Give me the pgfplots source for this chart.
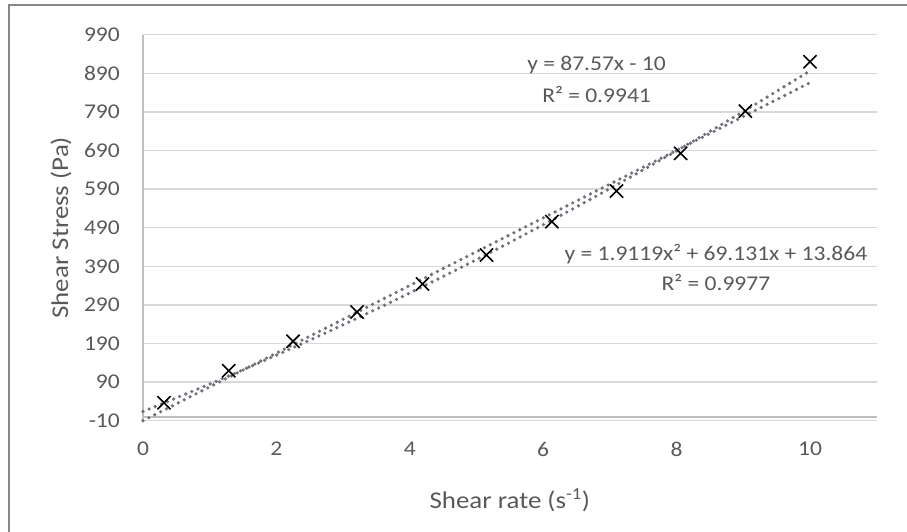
\documentclass[border=0pt]{standalone}
\usepackage{fontspec}
\setmainfont{Carlito}[FakeStretch=1.12]
\usepackage{pgfplots}
\pgfplotsset{compat=1.18}
\definecolor{txt}{RGB}{89,89,89}
\definecolor{gridc}{RGB}{217,217,217}
\definecolor{axisc}{RGB}{191,191,191}
\definecolor{trend}{RGB}{112,112,122}
\definecolor{framec}{RGB}{134,134,134}

\begin{document}
\begin{tikzpicture}
\useasboundingbox (0pt,0pt) rectangle (907pt,531pt);
\begin{scope}
\clip (0pt,0pt) rectangle (907pt,531pt);
\draw[framec,line width=1.8pt] (9pt,-20pt) -- (9pt,526pt) -- (930pt,526pt);
\end{scope}
\begin{axis}[
  at={(143pt,110.3pt)},anchor=south west,
  scale only axis,width=733.7pt,height=386pt,
  xmin=0,xmax=11,ymin=-10,ymax=990,
  xtick={0,2,4,6,8,10},
  ytick={-10,90,190,290,390,490,590,690,790,890,990},
  axis line style={draw=none},
  major tick length=0pt,
  ymajorgrids,
  grid style={gridc,line width=1.4pt},
  /pgf/number format/assume math mode=true,
  ticklabel style={font=\fontsize{21}{25}\selectfont,text=txt,inner sep=0pt},
  xticklabel style={anchor=north,yshift=-21pt},
  yticklabel style={anchor=east,xshift=-23pt},
  xlabel={Shear rate (s\textsuperscript{-1})},
  ylabel={Shear Stress (Pa)},
  label style={font=\fontsize{24}{28}\selectfont,text=txt},
  xlabel style={at={(axis description cs:0.5,-0.2054)},anchor=center},
  ylabel style={at={(axis description cs:-0.1118,0.5)},anchor=center},
  clip=false,
]
\draw[axisc,line width=1.4pt] (axis cs:0,0) -- (axis cs:11,0);
\draw[axisc,line width=1.4pt] (axis cs:0,-10) -- (axis cs:0,990);
% trendlines
\addplot[trend,line width=3.6pt,line cap=round,dash pattern=on 0pt off 6.6pt]
  coordinates {(0,-10) (10,865.7)};
\addplot[trend,line width=3.6pt,line cap=round,dash pattern=on 0pt off 6.6pt,smooth]
  coordinates {(0,13.864) (1,84.907) (2,159.774) (3,238.464) (4,320.978) (5,407.317)
               (6,497.478) (7,591.464) (8,689.274) (9,790.907) (10,896.364)};
% measured points
\addplot[only marks,mark=x,mark size=9.3pt,black,mark options={line width=1.6pt}]
  coordinates {(0.315,36.6) (1.285,119.5) (2.25,195.7) (3.21,271.6) (4.19,344)
               (5.15,419) (6.13,505.6) (7.10,585) (8.06,682.7) (9.03,792) (10.0,920)};
\node[align=center,text=txt,font=\fontsize{21}{32}\selectfont] at (axis cs:6.80,875)
  {y = 87.57x - 10\\R² = 0.9941};
\node[align=center,text=txt,font=\fontsize{21}{30}\selectfont] at (axis cs:8.59,388)
  {y = 1.9119x² + 69.131x + 13.864\\R² = 0.9977};
\end{axis}
\end{tikzpicture}
\end{document}
